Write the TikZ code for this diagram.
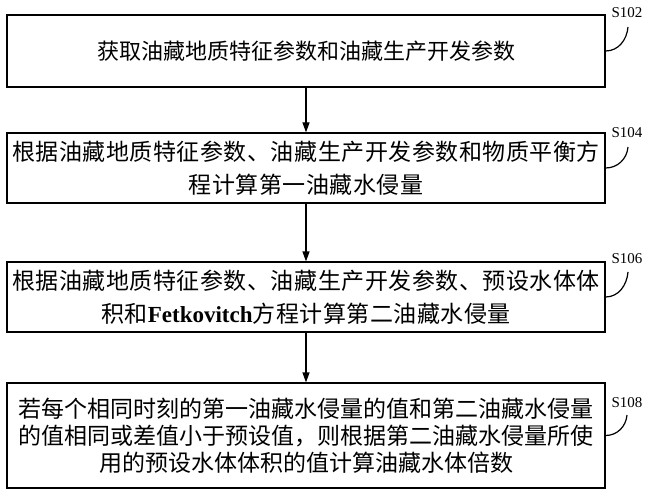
\documentclass[tikz,border=0pt]{standalone}
\usepackage{fontspec}
\setmainfont{Liberation Serif}
\newfontfamily\cjkfont{Noto Sans CJK SC}
\newfontfamily\cjkwide{Noto Sans CJK SC}[LetterSpace=2.2]
\usetikzlibrary{arrows.meta}

\begin{document}
\begin{tikzpicture}[x=1pt,y=1pt,
		box/.style={draw, line width=1.2pt, minimum width=598pt, inner sep=0pt, align=center,
			font=\cjkwide\fontsize{23}{33}\selectfont},
		steplabel/.style={font=\fontsize{15}{15}\selectfont},
		hook/.style={line width=1.2pt},
		flow/.style={line width=1.2pt, -{Triangle[length=10pt,width=7pt]}}]
	\useasboundingbox (0,0) rectangle (650,496);
	% steps
	\node [box, minimum height=72pt, font=\cjkfont\fontsize{22}{32}\selectfont] (b1) at (306,445) {获取油藏地质特征参数和油藏生产开发参数};
	\node [box, minimum height=70pt] (b2) at (306,328) {根据油藏地质特征参数、油藏生产开发参数和物质平衡方\\程计算第一油藏水侵量};
	\node [box, minimum height=70pt] (b3) at (306,199) {根据油藏地质特征参数、油藏生产开发参数、预设水体体\\积和{\rmfamily\bfseries Fetkovitch}方程计算第二油藏水侵量};
	\node [box, minimum height=105pt, font=\cjkfont\fontsize{23}{27}\selectfont] (b4) at (306,60.5) {若每个相同时刻的第一油藏水侵量的值和第二油藏水侵量\\的值相同或差值小于预设值，则根据第二油藏水侵量所使\\用的预设水体体积的值计算油藏水体倍数};
	% labels
	\node [steplabel] (s1) at (627,483) {S102};
	\node [steplabel] (s2) at (627,363) {S104};
	\node [steplabel] (s3) at (627,237) {S106};
	\node [steplabel] (s4) at (627,93) {S108};
	\coordinate (h1) at (628,469);
	\coordinate (h2) at (628,349);
	\coordinate (h3) at (628,224);
	\coordinate (h4) at (627,81);
	\draw [hook] (b1.east) to[out=0,in=-95] (h1);
	\draw [hook] (b2.east) to[out=0,in=-95] (h2);
	\draw [hook] (b3.east) to[out=0,in=-95] (h3);
	\draw [hook] (b4.east) to[out=0,in=-95] (h4);
	% arrows
	\draw [flow] (b1) -- (b2);
	\draw [flow] (b2) -- (b3);
	\draw [flow] (b3) -- (b4);
\end{tikzpicture}
\end{document}
